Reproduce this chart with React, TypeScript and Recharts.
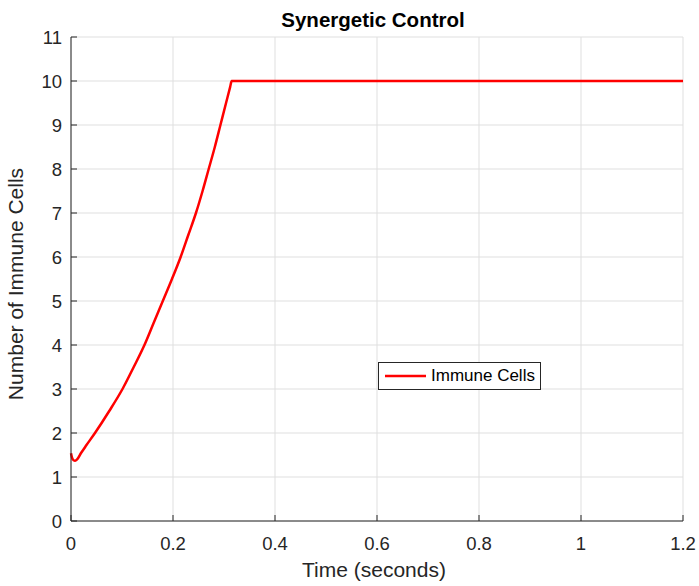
import { LineChart, Line, XAxis, YAxis, CartesianGrid, Legend } from "recharts"

// immune cell count over time under synergetic control
const times = [
  0, 0.002, 0.005, 0.008, 0.012, 0.02, 0.03, 0.047, 0.075, 0.101, 0.123, 0.144,
  0.162, 0.18, 0.198, 0.215, 0.23, 0.245, 0.258, 0.27, 0.282, 0.293, 0.304, 0.312, 0.315, 1.2,
]
const immuneCells = [
  1.54, 1.44, 1.38, 1.37, 1.4, 1.55, 1.72, 2.0, 2.5, 3.0, 3.5, 4.0,
  4.5, 5.0, 5.5, 6.0, 6.5, 7.0, 7.5, 8.0, 8.5, 9.0, 9.5, 9.86, 10, 10,
]
const xTicks = [0, 0.2, 0.4, 0.6, 0.8, 1, 1.2]
const yTicks = [0, 1, 2, 3, 4, 5, 6, 7, 8, 9, 10, 11]

const data = times.map((t, i) => ({ t, cells: immuneCells[i] }))

const INK = "#262626"
const FONT = '"Liberation Sans", Arial, Helvetica, sans-serif'
const TICK_LEN = 6

// ticks point into the plot box, matlab style
function BottomTick({ x, y, payload }: any) {
  return (
    <g>
      <line x1={x} y1={y} x2={x} y2={y - TICK_LEN} stroke={INK} />
      <text x={x} y={y + 29} textAnchor="middle" fontSize={18.5} fill={INK} fontFamily={FONT}>
        {payload.value}
      </text>
    </g>
  )
}

function LeftTick({ x, y, payload }: any) {
  return (
    <g>
      <line x1={x} y1={y} x2={x + TICK_LEN} y2={y} stroke={INK} />
      <text x={x - 9} y={y + 6.5} textAnchor="end" fontSize={18.5} fill={INK} fontFamily={FONT}>
        {payload.value}
      </text>
    </g>
  )
}

function TopTick({ x, y }: any) {
  return <line x1={x} y1={y} x2={x} y2={y + TICK_LEN} stroke={INK} />
}

function RightTick({ x, y }: any) {
  return <line x1={x} y1={y} x2={x - TICK_LEN} y2={y} stroke={INK} />
}

function LegendBox() {
  return (
    <div
      style={{
        boxSizing: "border-box",
        width: 163,
        height: 28,
        border: `1px solid ${INK}`,
        background: "#fff",
        display: "flex",
        alignItems: "center",
        paddingLeft: 6,
        fontFamily: FONT,
        fontSize: 17,
        color: "#000",
      }}
    >
      <svg width={41} height={4} style={{ marginRight: 5 }}>
        <line x1={0} y1={2} x2={41} y2={2} stroke="#ff0000" strokeWidth={2.5} />
      </svg>
      Immune Cells
    </div>
  )
}

export default function App() {
  return (
    <div style={{ position: "absolute", left: 0, top: 0, width: 699, height: 586, background: "#fff" }}>
      <div
        style={{
          position: "absolute",
          left: 273,
          top: 10,
          width: 200,
          textAlign: "center",
          fontFamily: FONT,
          fontSize: 20.5,
          lineHeight: "20px",
          fontWeight: "bold",
          color: "#000",
          whiteSpace: "nowrap",
          zIndex: 1,
        }}
      >
        Synergetic Control
      </div>
      <LineChart width={699} height={586} data={data} margin={{ top: 37, right: 16, bottom: 0, left: 0 }}>
        <CartesianGrid stroke="#dfdfdf" strokeWidth={1} />
        <XAxis
          dataKey="t"
          type="number"
          domain={[0, 1.2]}
          ticks={xTicks}
          interval={0}
          height={65}
          tickSize={0}
          tickMargin={0}
          tickLine={false}
          tick={<BottomTick />}
          axisLine={{ stroke: INK }}
          label={{ value: "Time (seconds)", position: "insideBottom", offset: 9, dx: -3, fontSize: 21, fill: INK, fontFamily: FONT }}
        />
        <XAxis
          xAxisId="top"
          orientation="top"
          dataKey="t"
          type="number"
          domain={[0, 1.2]}
          ticks={xTicks}
          interval={0}
          height={0}
          tickSize={0}
          tickMargin={0}
          tickLine={false}
          tick={<TopTick />}
          axisLine={{ stroke: INK }}
        />
        <YAxis
          type="number"
          domain={[0, 11]}
          ticks={yTicks}
          interval={0}
          width={71}
          tickSize={0}
          tickMargin={0}
          tickLine={false}
          tick={<LeftTick />}
          axisLine={{ stroke: INK }}
          label={{ value: "Number of Immune Cells", angle: -90, position: "insideLeft", offset: 16, dy: 5, fontSize: 21, fill: INK, fontFamily: FONT, style: { textAnchor: "middle" } }}
        />
        <YAxis
          yAxisId="right"
          orientation="right"
          type="number"
          domain={[0, 11]}
          ticks={yTicks}
          interval={0}
          width={0}
          tickSize={0}
          tickMargin={0}
          tickLine={false}
          tick={<RightTick />}
          axisLine={{ stroke: INK }}
        />
        <Legend
          layout="horizontal"
          verticalAlign="middle"
          align="center"
          content={<LegendBox />}
          wrapperStyle={{ left: 378, top: 362, width: "auto" }}
        />
        <Line
          name="Immune Cells"
          dataKey="cells"
          type="monotone"
          stroke="#ff0000"
          strokeWidth={2.5}
          dot={false}
          isAnimationActive={false}
        />
      </LineChart>
    </div>
  )
}
